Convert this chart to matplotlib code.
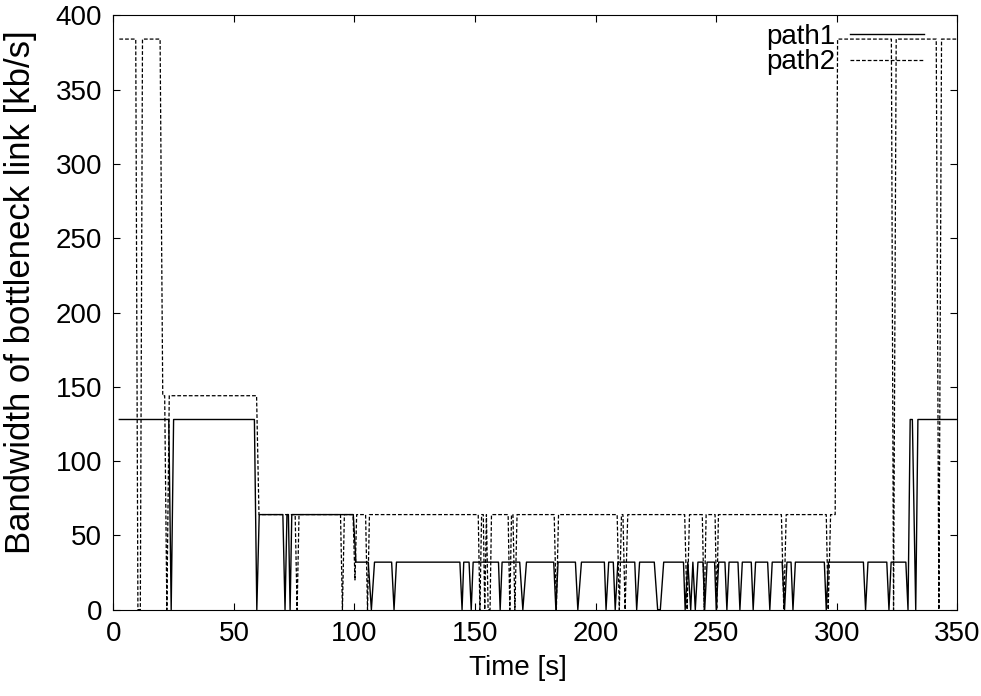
import matplotlib
matplotlib.use("Agg")
import matplotlib.pyplot as plt

plt.rcParams['font.family'] = ['Liberation Sans', 'DejaVu Sans']
plt.rcParams['font.size'] = 20

# path1 (solid): breakpoints (time [s], bandwidth [kb/s])
t1 = [2.5, 23, 24, 25, 58.5, 59.5, 60.5, 70.3, 71.2, 72, 72.6, 73.3, 74,
      99.5, 100.6, 105.7, 107, 108.3, 115.4, 116.4, 117.4, 143.7, 144.6, 145.3,
      147.5, 148.4, 149.2, 159.7, 160.4, 161.2, 168.5, 169.8, 171.3, 182.6,
      183.5, 184.4, 191.6, 192.6, 194.1, 203.6, 204.3, 205.4, 207.3, 208.1,
      209.2, 216.2, 217, 218.2, 224.3, 225.7, 226.8, 228.2, 236.4, 237.1,
      238.2, 239.4, 240.3, 241.3, 242.4, 244.5, 245.2, 246.2, 249.3, 250,
      251, 253.6, 254.4, 255.3, 259, 259.8, 260.8, 264.5, 265.3, 266.3,
      271.3, 272.2, 273.2, 277.3, 278.3, 279.3, 281, 281.8, 282.8, 294.8,
      295.6, 296.5, 311, 311.9, 312.9, 320.7, 321.6, 322.5, 328.6, 329.5,
      330.4, 331.3, 332.7, 333.6, 349.5]
bw1 = [128, 128, 0, 128, 128, 0, 64, 64, 0, 64, 64, 0, 64,
       64, 32, 32, 0, 32, 32, 0, 32, 32, 0, 32,
       32, 0, 32, 32, 0, 32, 32, 0, 32, 32,
       0, 32, 32, 0, 32, 32, 0, 32, 32, 0,
       32, 32, 0, 32, 32, 0, 0, 32, 32, 0,
       32, 0, 32, 0, 32, 32, 0, 32, 32, 0,
       32, 32, 0, 32, 32, 0, 32, 32, 0, 32,
       32, 0, 32, 32, 0, 32, 32, 0, 32, 32,
       0, 32, 32, 0, 32, 32, 0, 32, 32, 0,
       128, 128, 0, 128, 128]

# path2 (dashed)
t2 = [2.5, 9.3, 10.2, 11.2, 12.1, 19.4, 20.5, 21.3, 22.2, 23.2, 59.4, 60.4,
      75.4, 76.2, 77.0, 94.2, 95.0, 95.8, 99.4, 100.2, 100.9, 104.6, 105.4,
      106.2, 151.3, 152.0, 152.7, 153.4, 154.0, 154.7, 155.4, 156.2, 156.8,
      157.8, 163.7, 164.4, 165.1, 165.7, 166.5, 167.4, 182.8, 183.7, 184.6,
      208.9, 209.8, 210.7, 211.3, 212.2, 213.3, 236.9, 237.9, 238.9, 244.2,
      245.0, 245.8, 249.5, 250.2, 250.9, 277.0, 278.0, 279.0, 295.6, 296.4,
      297.4, 299.3, 300.3, 322.6, 323.5, 324.6, 341.2, 342.3, 343.4, 349.5]
bw2 = [384, 384, 0, 0, 384, 384, 144, 144, 0, 144, 144, 64,
       64, 0, 64, 64, 0, 64, 64, 20, 64, 64, 0,
       64, 64, 0, 64, 64, 0, 64, 0, 0, 64,
       64, 64, 0, 64, 64, 0, 64, 64, 0, 64,
       64, 0, 64, 64, 0, 64, 64, 0, 64, 64,
       0, 64, 64, 0, 64, 64, 0, 64, 64, 0,
       64, 64, 384, 384, 0, 384, 384, 0, 384, 384]

fig = plt.figure(figsize=(9.81, 6.96), dpi=100)
ax = fig.add_axes([0.1155, 0.124, 0.8605, 0.854])

ax.plot(t1, bw1, color='black', lw=1.0, label='path1')
ax.plot(t2, bw2, color='black', lw=0.9, linestyle=(0, (3, 1.6)), label='path2')

ax.set_xlim(0, 350)
ax.set_ylim(0, 400)
ax.set_xticks(range(0, 351, 50))
ax.set_yticks(range(0, 401, 50))
ax.tick_params(direction='in', top=True, right=True, length=5, width=0.8, pad=8)
for s in ax.spines.values():
    s.set_linewidth(0.8)

ax.set_xlabel('Time [s]', labelpad=6)
ax.xaxis.label.set_x(0.479)
ax.set_ylabel('Bandwidth of bottleneck link [kb/s]', fontsize=25)
ax.yaxis.set_label_coords(-0.090, 0.535)

ax.legend(loc='upper right', bbox_to_anchor=(924 / 981, 1 - 24 / 696),
          bbox_transform=fig.transFigure, frameon=False, markerfirst=False,
          handlelength=2.66, handletextpad=0.54, labelspacing=-0.02,
          borderpad=0, borderaxespad=0)

plt.savefig('out.png')
